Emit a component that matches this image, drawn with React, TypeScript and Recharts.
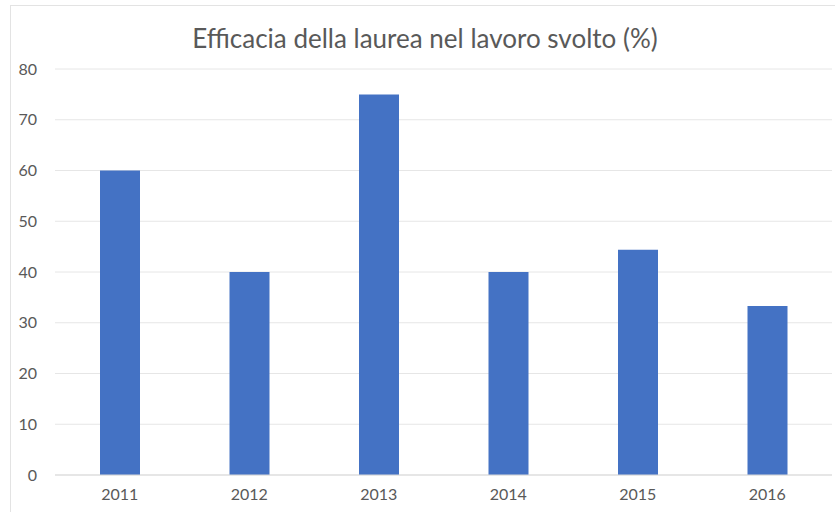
import React from "react";
import { BarChart, Bar, XAxis, YAxis, CartesianGrid } from "recharts";

const years = ["2011", "2012", "2013", "2014", "2015", "2016"];
const values = [60, 40, 75, 40, 44.4, 33.3];
const yTicks = [0, 10, 20, 30, 40, 50, 60, 70, 80];
const title = "Efficacia della laurea nel lavoro svolto (%)";

const data = years.map((y, i) => ({ year: y, value: values[i] }));

export default function App() {
  return (
    <div style={{ position: "absolute", left: 0, top: 0, width: 835, height: 512, background: "#fff", overflow: "hidden" }}>
      <div style={{ position: "absolute", left: 10, top: 5, width: 840, height: 520, border: "1px solid #e3e3e3", boxSizing: "border-box" }} />
      <div style={{ position: "absolute", left: 0, top: 22, width: 850, textAlign: "center", fontFamily: "Lato, 'Open Sans', sans-serif", fontSize: 26, color: "#595959" }}>
        {title}
      </div>
      <div style={{ position: "absolute", left: 0, top: 0 }}>
        <BarChart width={835} height={512} data={data} margin={{ top: 69, right: 3, bottom: 7, left: 0 }}>
          <CartesianGrid vertical={false} stroke="#e6e6e6" />
          <XAxis dataKey="year" height={30} tickLine={false} axisLine={{ stroke: "#d9d9d9" }} tickMargin={8}
            tick={{ fill: "#595959", fontSize: 16, fontFamily: "Lato, 'Open Sans', sans-serif" }} />
          <YAxis width={55} domain={[0, 80]} ticks={yTicks} tickLine={false} axisLine={false} tickMargin={12}
            tick={{ fill: "#595959", fontSize: 16, fontFamily: "Lato, 'Open Sans', sans-serif" }} />
          <Bar dataKey="value" fill="#4472C4" barSize={40} isAnimationActive={false} />
        </BarChart>
      </div>
    </div>
  );
}
